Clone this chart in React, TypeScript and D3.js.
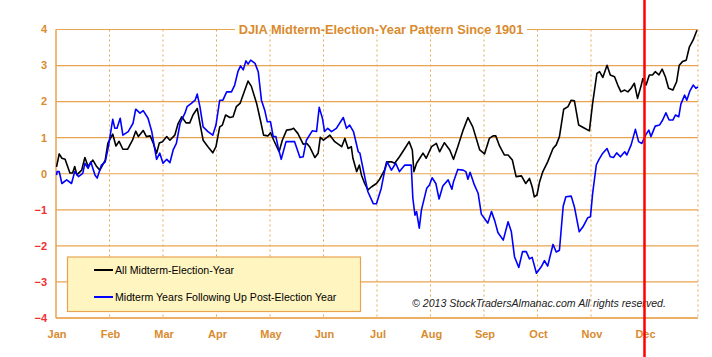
import React from "react";
import * as d3 from "d3";

const months = ["Jan", "Feb", "Mar", "Apr", "May", "Jun", "Jul", "Aug", "Sep", "Oct", "Nov", "Dec"];
const yTicks = [-4, -3, -2, -1, 0, 1, 2, 3, 4];

// [month position (0 = start of Jan, 12 = end of Dec), % change]
const allMidterm: [number, number][] = [
  [0.01, 0.19], [0.06, 0.55], [0.11, 0.43], [0.17, 0.4], [0.26, 0.02], [0.31, 0.02], [0.35, 0.2], [0.39, -0.03],
  [0.48, 0.1], [0.54, 0.45], [0.6, 0.2], [0.69, 0.38], [0.76, 0.2], [0.82, 0.1], [0.92, 0.38], [0.97, 0.85],
  [1.06, 1.1], [1.12, 0.77], [1.18, 0.9], [1.25, 0.68], [1.34, 0.68], [1.43, 0.93], [1.49, 1.18], [1.54, 1.03],
  [1.63, 1.2], [1.69, 1.03], [1.76, 1.05], [1.82, 0.84], [1.88, 0.57], [1.93, 0.85], [1.99, 0.89], [2.07, 1.03],
  [2.13, 0.93], [2.22, 1.07], [2.28, 1.38], [2.35, 1.58], [2.43, 1.41], [2.5, 1.41], [2.56, 1.63], [2.64, 1.81],
  [2.69, 1.4], [2.75, 0.93], [2.84, 0.75], [2.93, 0.58], [2.99, 0.75], [3.06, 1.3], [3.11, 1.35], [3.17, 1.63],
  [3.25, 1.56], [3.31, 1.58], [3.37, 1.86], [3.44, 1.95], [3.53, 2.32], [3.59, 2.57], [3.65, 2.43], [3.75, 1.95],
  [3.82, 1.49], [3.88, 1.07], [3.96, 1.05], [4.01, 1.14], [4.07, 0.93], [4.17, 0.61], [4.23, 0.93], [4.31, 1.21],
  [4.4, 1.23], [4.44, 1.26], [4.52, 1.12], [4.62, 0.82], [4.69, 0.84], [4.74, 0.75], [4.84, 0.45], [4.9, 0.57],
  [4.94, 1.01], [5.0, 0.93], [5.12, 1.07], [5.21, 0.89], [5.34, 0.75], [5.4, 0.98], [5.46, 0.7], [5.52, 0.75],
  [5.55, 0.43], [5.62, 0.06], [5.67, 0.24], [5.71, -0.04], [5.77, -0.27], [5.83, -0.45], [5.9, -0.36], [5.99, -0.27],
  [6.05, -0.15], [6.14, 0.1], [6.18, 0.33], [6.27, 0.33], [6.33, 0.29], [6.42, 0.47], [6.52, 0.7], [6.6, 0.89],
  [6.66, 0.66], [6.69, 0.06], [6.74, 0.29], [6.8, 0.43], [6.86, 0.57], [6.92, 0.43], [7.02, 0.75], [7.11, 0.84],
  [7.17, 0.61], [7.26, 0.86], [7.36, 0.66], [7.43, 0.4], [7.51, 0.75], [7.61, 1.21], [7.7, 1.56], [7.79, 1.3],
  [7.92, 0.66], [8.01, 0.55], [8.1, 0.98], [8.17, 1.05], [8.22, 1.05], [8.29, 0.77], [8.38, 0.52], [8.45, 0.52],
  [8.53, 0.38], [8.6, -0.08], [8.7, -0.06], [8.78, -0.27], [8.85, -0.13], [8.9, -0.36], [8.94, -0.64], [8.99, -0.59],
  [9.04, -0.22], [9.1, 0.06], [9.19, 0.33], [9.29, 0.7], [9.35, 0.8], [9.41, 1.03], [9.49, 1.79], [9.57, 1.86],
  [9.63, 2.04], [9.69, 2.02], [9.77, 1.35], [9.88, 1.26], [9.97, 1.19], [10.03, 1.95], [10.11, 2.78], [10.16, 2.83],
  [10.22, 2.67], [10.3, 3.01], [10.36, 2.74], [10.44, 2.69], [10.5, 2.46], [10.56, 2.27], [10.63, 2.32], [10.69, 2.27],
  [10.75, 2.37], [10.81, 2.51], [10.87, 2.09], [10.94, 2.46], [10.97, 2.64], [11.03, 2.46], [11.09, 2.74], [11.15, 2.74],
  [11.2, 2.83], [11.27, 2.74], [11.33, 2.9], [11.39, 2.69], [11.45, 2.37], [11.53, 2.32], [11.6, 2.55], [11.65, 3.01],
  [11.71, 3.11], [11.78, 3.15], [11.84, 3.52], [11.91, 3.71], [11.98, 3.98],
];

const followingPostElection: [number, number][] = [
  [0.01, -0.04], [0.02, 0.06], [0.06, 0.06], [0.11, -0.27], [0.2, -0.17], [0.29, -0.27], [0.35, 0.06], [0.42, -0.08],
  [0.5, 0.01], [0.54, 0.29], [0.6, 0.15], [0.65, 0.33], [0.73, -0.04], [0.77, -0.12], [0.85, 0.24], [0.92, 0.33],
  [0.98, 0.75], [1.06, 1.51], [1.1, 1.26], [1.14, 1.26], [1.2, 1.54], [1.25, 1.07], [1.35, 1.17], [1.44, 1.4],
  [1.49, 1.79], [1.57, 1.68], [1.63, 1.75], [1.72, 1.54], [1.79, 1.17], [1.88, 0.4], [1.94, 0.57], [2.0, 0.29],
  [2.07, 0.4], [2.13, 0.31], [2.19, 0.66], [2.25, 0.84], [2.32, 1.4], [2.41, 1.68], [2.45, 1.86], [2.53, 1.95],
  [2.6, 2.04], [2.64, 2.21], [2.69, 1.86], [2.75, 1.3], [2.84, 1.17], [2.93, 1.07], [2.99, 1.35], [3.06, 2.04],
  [3.12, 2.04], [3.19, 2.27], [3.28, 2.27], [3.34, 2.46], [3.4, 2.83], [3.45, 2.99], [3.5, 2.88], [3.55, 3.13],
  [3.59, 3.04], [3.64, 3.15], [3.72, 3.06], [3.78, 2.83], [3.84, 2.04], [3.9, 1.77], [3.95, 1.44], [4.01, 1.44],
  [4.06, 1.03], [4.11, 1.03], [4.15, 0.75], [4.21, 0.4], [4.3, 0.89], [4.37, 0.89], [4.46, 0.89], [4.56, 0.45],
  [4.62, 0.47], [4.68, 0.93], [4.79, 1.19], [4.87, 1.17], [4.92, 1.84], [4.98, 1.54], [5.02, 1.17], [5.08, 1.26],
  [5.15, 1.17], [5.24, 1.26], [5.37, 1.56], [5.43, 1.26], [5.49, 1.35], [5.56, 1.17], [5.65, 0.61], [5.68, 0.57],
  [5.77, -0.08], [5.83, -0.5], [5.93, -0.83], [5.99, -0.83], [6.08, -0.4], [6.14, 0.06], [6.19, 0.33], [6.27, 0.1],
  [6.35, 0.29], [6.42, 0.06], [6.52, 0.24], [6.64, 0.24], [6.67, -0.68], [6.71, -1.15], [6.74, -1.05], [6.79, -1.51],
  [6.83, -1.01], [6.89, -0.64], [6.93, -0.4], [6.98, -0.31], [7.03, -0.11], [7.1, -0.27], [7.16, -0.7], [7.23, -0.34],
  [7.33, -0.17], [7.4, -0.43], [7.43, -0.22], [7.51, 0.12], [7.61, 0.1], [7.66, 0.06], [7.7, -0.15], [7.74, 0.04],
  [7.82, -0.31], [7.89, -0.54], [7.95, -1.12], [8.01, -1.24], [8.07, -1.37], [8.14, -1.05], [8.2, -1.3], [8.26, -1.63],
  [8.36, -1.84], [8.45, -1.33], [8.51, -1.6], [8.57, -2.3], [8.65, -2.6], [8.72, -2.16], [8.79, -2.16], [8.85, -2.36],
  [8.9, -2.32], [8.98, -2.76], [9.07, -2.58], [9.13, -2.41], [9.19, -2.56], [9.29, -1.96], [9.35, -2.17], [9.41, -2.12],
  [9.48, -0.9], [9.53, -0.64], [9.63, -0.62], [9.69, -0.92], [9.78, -1.61], [9.85, -1.47], [9.94, -1.22], [9.99, -1.19],
  [10.03, -0.55], [10.1, 0.25], [10.15, 0.4], [10.22, 0.57], [10.3, 0.7], [10.36, 0.47], [10.42, 0.45], [10.48, 0.58],
  [10.55, 0.47], [10.63, 0.61], [10.67, 0.52], [10.75, 0.8], [10.83, 1.23], [10.89, 0.89], [10.95, 0.84], [11.02, 1.07],
  [11.08, 1.21], [11.12, 1.03], [11.2, 1.32], [11.28, 1.35], [11.34, 1.49], [11.4, 1.69], [11.46, 1.49], [11.53, 1.49],
  [11.58, 1.63], [11.64, 1.58], [11.68, 1.93], [11.75, 2.18], [11.79, 2.04], [11.85, 2.3], [11.91, 2.46], [11.96, 2.37],
  [12.0, 2.41],
];

const title = "DJIA Midterm-Election-Year Pattern Since 1901";
const legendLabels = ["All Midterm-Election-Year", "Midterm Years Following Up Post-Election Year"];
const copyright = "© 2013 StockTradersAlmanac.com All rights reserved.";
const markerMonth = 11; // Dec

const W = 712;
const H = 357;
const left = 56;
const right = 698;
const top = 29.5;
const bottom = 318;

const orange = "#E9A451";
const labelOrange = "#D98B2E";

export default function App() {
  const x = d3.scaleLinear().domain([0, 12]).range([left, right]);
  const y = d3.scaleLinear().domain([-4, 4]).range([bottom, top]);
  const line = d3
    .line<[number, number]>()
    .x((d) => x(d[0]))
    .y((d) => y(d[1]));

  const titleX = 381;
  const titleHalf = 142;

  return (
    <svg
      width={W}
      height={H}
      style={{ position: "absolute", left: 0, top: 0, background: "#fff" }}
      fontFamily="Arial, 'Liberation Sans', sans-serif"
    >
      <rect x={0} y={0} width={W} height={H} fill="#fff" />
      {/* vertical dotted month gridlines */}
      {d3.range(1, 13).map((m) => (
        <line
          key={"v" + m}
          x1={x(m)}
          x2={x(m)}
          y1={top}
          y2={bottom}
          stroke={orange}
          strokeWidth={1}
          strokeDasharray="2,3"
        />
      ))}
      {/* horizontal gridlines */}
      {yTicks.map((t) =>
        t === 4 ? (
          <g key={"h" + t}>
            <line x1={left} x2={titleX - titleHalf - 4} y1={y(t)} y2={y(t)} stroke={orange} strokeWidth={1.2} />
            <line x1={titleX + titleHalf + 4} x2={right} y1={y(t)} y2={y(t)} stroke={orange} strokeWidth={1.2} />
          </g>
        ) : (
          <line key={"h" + t} x1={left} x2={right} y1={y(t)} y2={y(t)} stroke={orange} strokeWidth={1.2} />
        )
      )}
      {/* axes */}
      <line x1={left} x2={left} y1={top} y2={bottom} stroke={orange} strokeWidth={1.5} />
      <line x1={left} x2={right} y1={bottom} y2={bottom} stroke={orange} strokeWidth={1.5} />
      {/* y tick labels */}
      {yTicks.map((t) => (
        <text
          key={"yl" + t}
          x={left - 9}
          y={y(t)}
          dy="0.35em"
          textAnchor="end"
          fontSize={11}
          fontWeight="bold"
          fill={t < 0 ? "#F03030" : labelOrange}
        >
          {t < 0 ? "\u2212" + Math.abs(t) : String(t)}
        </text>
      ))}
      {/* x month labels */}
      {months.map((m, i) => (
        <text
          key={m}
          x={x(i) + 1}
          y={334}
          dy="0.35em"
          textAnchor="middle"
          fontSize={11}
          fontWeight="bold"
          fill={labelOrange}
        >
          {m}
        </text>
      ))}
      {/* title */}
      <text x={titleX} y={y(4)} dy="0.35em" textAnchor="middle" fontSize={12.8} fontWeight="bold" fill={labelOrange}>
        {title}
      </text>
      {/* legend */}
      <rect x={67.5} y={257} width={293} height={54.5} fill="#FFF5C0" stroke={orange} strokeWidth={1.2} />
      <line x1={94} x2={113} y1={270} y2={270} stroke="#000" strokeWidth={2} />
      <text x={115} y={270} dy="0.35em" fontSize={10.6} fill="#000">
        {legendLabels[0]}
      </text>
      <line x1={94} x2={113} y1={297} y2={297} stroke="#0000FF" strokeWidth={2} />
      <text x={115} y={297} dy="0.35em" fontSize={10.6} fill="#000">
        {legendLabels[1]}
      </text>
      {/* copyright */}
      <text x={412} y={303} dy="0.35em" fontSize={10.6} fontStyle="italic" fill="#222">
        {copyright}
      </text>
      {/* series */}
      <path d={line(allMidterm) ?? ""} fill="none" stroke="#000" strokeWidth={1.6} strokeLinejoin="round" />
      <path d={line(followingPostElection) ?? ""} fill="none" stroke="#0000FF" strokeWidth={1.6} strokeLinejoin="round" />
      {/* Dec marker */}
      <line x1={x(markerMonth)} x2={x(markerMonth)} y1={0} y2={H} stroke="#FF0000" strokeWidth={2.5} />
    </svg>
  );
}
